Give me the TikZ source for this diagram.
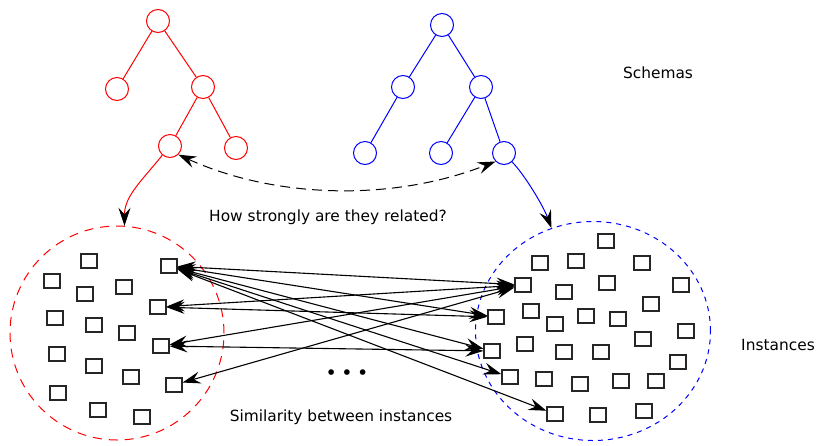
\documentclass[tikz,border=0pt]{standalone}
\usepackage{fontspec}
\setmainfont{DejaVu Sans}
\usetikzlibrary{arrows.meta,shapes.geometric}

\tikzset{
  headtip/.tip={Stealth[length=18pt,width=12pt,inset=6.5pt,color=black]}
}

\begin{document}
\begin{tikzpicture}[x=1pt,y=-1pt,
  treenode/.style={circle,draw,line width=1pt,minimum size=23pt,inner sep=0pt},
  redtree/.style={treenode,draw=red},
  bluetree/.style={treenode,draw=blue},
  inst/.style={rectangle,draw=black!85,line width=1.1pt,minimum width=16pt,minimum height=14pt,inner sep=0pt},
  sim/.style={line width=1.1pt,{headtip}-{headtip}},
  txt/.style={font=\fontsize{15.4}{18}\selectfont,anchor=base,inner sep=0pt}
]
\useasboundingbox (0,0) rectangle (818,445);

% ---- red schema tree ----
\node[redtree] (a0) at (158,21) {};
\node[redtree] (a1) at (117,89) {};
\node[redtree] (a2) at (203,87) {};
\node[redtree] (a3) at (170,146) {};
\node[redtree] (a4) at (236,148) {};
\draw[red,line width=1pt] (a0) -- (a1) (a0) -- (a2) (a2) -- (a3) (a2) -- (a4);

% ---- blue schema tree ----
\node[bluetree] (b0) at (442,25) {};
\node[bluetree] (b1) at (403,87) {};
\node[bluetree] (b2) at (481,87) {};
\node[bluetree] (b3) at (365,153) {};
\node[bluetree] (b4) at (441,153) {};
\node[bluetree] (b5) at (504,153) {};
\draw[blue,line width=1pt] (b0) -- (b1) (b0) -- (b2) (b1) -- (b3) (b2) -- (b4) (b2) -- (b5);

% ---- instance sets ----
\node[circle,draw=red,line width=1pt,dash pattern=on 9pt off 7pt,minimum size=214pt,inner sep=0pt] (setL) at (117,333) {};
\node[ellipse,draw=blue,line width=1pt,dash pattern=on 5pt off 5pt,minimum width=235pt,minimum height=219pt,inner sep=0pt] (setR) at (593,331) {};

\foreach \x/\y [count=\i] in {89/261,52/281,85/294,124/287,169/266,55/318,94/325,127/333,158/307,
  57/354,94/366,131/377,161/346,58/393,98/410,142/417,174/385}
  \node[inst] (l\i) at (\x,\y) {};

\foreach \x/\y [count=\i] in {606/241,540/263,576/261,642/263,523/285,564/292,607/283,681/285,651/304,
  496/317,531/311,555/324,586/316,618/319,686/331,492/351,525/344,564/352,601/352,643/339,678/362,
  510/377,544/379,580/384,621/381,656/381,555/414,598/415,644/411}
  \node[inst] (r\i) at (\x,\y) {};

% ---- schema to instance links ----
\draw[red,line width=1pt,-{headtip}] (a3.230) .. controls +(-20,25) and +(0,-30) .. (setL.86);
\draw[blue,line width=1pt,-{headtip}] (b5.312) .. controls +(12,12) and +(-8,-22) .. (setR.112);
\draw[line width=1pt,dash pattern=on 10pt off 6pt,{headtip}-{headtip}] (a3.314) .. controls +(92,42) and +(-108,42) .. (b5.225);

% ---- instance similarities ----
\foreach \a/\b in {l5/r5,l5/r10,l5/r16,l5/r22,l5/r27,l9/r5,l9/r10,l13/r5,l13/r16,l17/r5}
  \draw[sim] (\a) -- (\b);

% ---- labels ----
\node[txt] (schemas) at (658,78) {Schemas};
\node[txt] (instances) at (778,350) {Instances};
\node[txt] (question) at (328,221.5) {How strongly are they related?};
\node[txt] (similarity) at (341,421.5) {Similarity between instances};
\node[txt,font=\fontsize{16}{18}\selectfont\bfseries] (dots) at (347,378) {• • •};
\end{tikzpicture}
\end{document}
